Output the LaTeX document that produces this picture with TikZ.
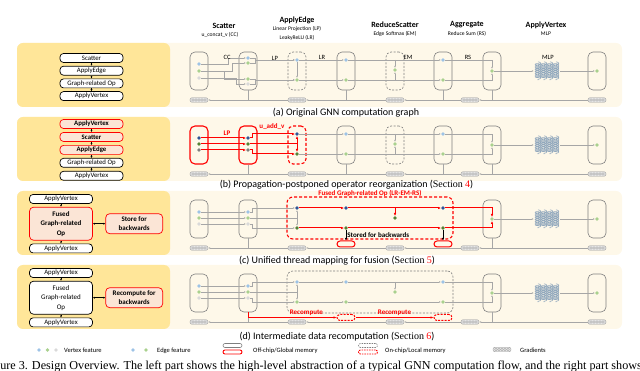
\documentclass[tikz,border=0pt]{standalone}
\usepackage{fontspec}
\setmainfont{Carlito}
\newfontfamily\capfont{Liberation Serif}
\usetikzlibrary{arrows.meta,positioning,fit,calc,decorations.pathreplacing,decorations.pathmorphing}
\definecolor{panelY}{HTML}{FFE699}
\definecolor{panelC}{HTML}{FEF8E9}
\definecolor{boxG}{HTML}{7F7F7F}
\definecolor{lineG}{HTML}{A6A6A6}
\definecolor{vB}{HTML}{9DC3E6}
\definecolor{vG}{HTML}{A9D18E}
\definecolor{vY}{HTML}{D9D9D9}
\definecolor{dB}{HTML}{2F5597}
\definecolor{dG}{HTML}{548235}
\definecolor{dY}{HTML}{7F7F7F}
\definecolor{rFill}{HTML}{FBE5D6}
\tikzset{
  opbox/.style  ={draw=black,line width=0.7pt,rounded corners=3.5pt,fill=white,minimum width=63pt,
                  minimum height=9pt,inner sep=0pt,align=center,font=\fontsize{6.8}{7}\selectfont},
  ropbox/.style ={opbox,draw=red,fill=rFill,font=\fontsize{6.8}{7}\selectfont\bfseries},
  fusedbox/.style={opbox,minimum height=33pt,rounded corners=4pt,font=\fontsize{7}{9.5}\selectfont},
  rfusedbox/.style={fusedbox,draw=red,fill=rFill,font=\fontsize{7}{9.5}\selectfont\bfseries},
  sidebox/.style={ropbox,minimum width=57pt,minimum height=20pt,rounded corners=4pt,
                  font=\fontsize{7}{8.5}\selectfont\bfseries},
  colbox/.style ={draw=boxG,line width=0.6pt,rounded corners=5pt,minimum width=18pt,minimum height=38pt,inner sep=0pt},
  dcolbox/.style={colbox,dash pattern=on 2pt off 1.5pt},
  rcolbox/.style={colbox,draw=red,line width=1.1pt},
  rdcolbox/.style={rcolbox,dash pattern=on 3pt off 2pt},
  fusebox/.style={draw=red,line width=1.1pt,dash pattern=on 3pt off 2pt,rounded corners=6pt,inner xsep=8pt,inner ysep=9pt},
  gfusebox/.style={fusebox,draw=boxG,line width=0.6pt,dash pattern=on 2pt off 1.5pt},
  dot/.style    ={circle,inner sep=0pt,minimum size=3.6pt},
  lb/.style={dot,fill=vB}, lg/.style={dot,fill=vG}, ly/.style={dot,fill=vY},
  db/.style={dot,fill=dB}, dg/.style={dot,fill=dG}, dy/.style={dot,fill=dY},
  gradbox/.style={draw=gray!80,fill=gray!20,rounded corners=2pt,minimum width=18pt,minimum height=4.5pt,inner sep=0pt,
                  path picture={\foreach \k in {-6,-3,0,3,6}
                    \draw[gray!70,line width=0.3pt] ([xshift=\k pt]path picture bounding box.center) circle[radius=1.4pt];}},
  mlpbox/.style ={minimum width=26pt,minimum height=18pt,inner sep=0pt},
  mlpwave/.style={draw=vB!60!gray,line width=0.6pt,decorate,
                  decoration={coil,aspect=0.4,segment length=1.8pt,amplitude=2.8pt}},
  smem/.style   ={draw=red,line width=1pt,rounded corners=3pt,minimum width=18pt,minimum height=6pt,inner sep=0pt},
  rdmem/.style  ={smem,dash pattern=on 2pt off 1.2pt},
  memg/.style   ={draw=boxG,line width=0.6pt,rounded corners=2pt,minimum width=19pt,minimum height=4pt,inner sep=0pt},
  memr/.style   ={memg,draw=red,line width=0.9pt},
  memgd/.style  ={memg,dash pattern=on 1.5pt off 1pt},
  memrd/.style  ={memr,dash pattern=on 1.5pt off 1pt},
  gflow/.style  ={-{Latex[length=2pt,width=1.6pt]},draw=lineG,line width=0.4pt},
  gline/.style  ={draw=lineG,line width=0.4pt},
  rflow/.style  ={-{Latex[length=3pt,width=2.6pt]},draw=red,line width=1pt},
  rline/.style  ={draw=red,line width=1pt},
  kflow/.style  ={-{Latex[length=2.5pt,width=2.2pt]},draw=black,line width=0.8pt},
  opflow/.style ={-{Latex[length=2pt,width=2pt]},line width=0.5pt},
  opboth/.style ={{Latex[length=2pt,width=2pt]}-{Latex[length=2pt,width=2pt]},line width=0.5pt},
  brc/.style    ={draw=gray!70,line width=0.5pt,decorate,decoration={brace,amplitude=2.5pt}},
  hdr/.style    ={font=\fontsize{8}{9}\selectfont\bfseries,inner sep=0pt},
  hsub/.style   ={font=\fontsize{5.6}{6.5}\selectfont,inner sep=0pt},
  plbl/.style   ={font=\fontsize{6.5}{7}\selectfont,inner sep=0pt},
  rlbl/.style   ={font=\fontsize{7}{8}\selectfont\bfseries,text=red,inner sep=0.5pt},
  klbl/.style   ={font=\fontsize{7}{8}\selectfont\bfseries,inner sep=0pt},
  captxt/.style ={font=\fontsize{10}{12}\selectfont,inner sep=0pt},
  legtxt/.style ={font=\fontsize{6.5}{7}\selectfont,anchor=west,inner sep=0pt},
}
% ApplyVertex end of a row, shared by all four rows
\newcommand\tailpart[1]{%
  \node[colbox] (#1col7) at (492,71) {};
  \node[lg] (#1v7g) at (492,71) {};
  \node[mlpbox] (#1mlp) at (547,71) {};
  \foreach \dx in {-9,-3,3,9}
    \draw[mlpwave] ([xshift=\dx pt]#1mlp.north) -- ([xshift=\dx pt]#1mlp.south);
  \node[colbox] (#1col8) at (597,71) {};
  \node[lg] (#1v8g) at (597,71) {};
  \foreach \i/\gx in {1/199,2/297,3/395,4/470,5/597}
    \node[gradbox] (#1gr\i) at (\gx,100) {};
  \foreach \i/\j in {1/2,2/3,3/4,4/5}
    \draw[gflow] (#1gr\j.west) -- (#1gr\i.east);
  \draw[gline] (#1col2.south) -- (#1col2.south |- #1gr1.center);
  \draw[gline] (#1col7.south) -- (#1col7.south |- #1gr1.center);
  \draw[gflow] (#1v7g) -- (#1mlp);
  \draw[gflow] (#1mlp) -- (#1v8g);
}
% dots of columns 4 to 6
\newcommand\innerdots[3]{%
  \node[#2] (#1v4b) at (346,60) {};
  \node[#3] (#1v4g) at (346,80) {};
  \node[#3] (#1v5g) at (395,70) {};
  \node[#2] (#1v6b) at (443,60) {};
  \node[#3] (#1v6g) at (443,80) {};
}
% unfused columns 4 to 6
\newcommand\midpart[1]{%
  \node[colbox] (#1col4) at (346,71) {};
  \node[dcolbox] (#1col5) at (395,71) {};
  \node[colbox] (#1col6) at (443,71) {};
  \innerdots{#1}{lb}{lg}
  \draw[gflow] (#1v3b) -- (#1v4b);
  \draw[gflow] (#1v3g) -- (#1v4g);
  \draw[gflow] (#1v4b) -- (#1v6b);
  \draw[gflow] (#1v4g) -- (#1v6g);
  \draw[gflow] (#1v5g |- #1v4b) -- (#1v5g);
  \draw[gflow] (#1v5g |- #1v4g) -- (#1v5g);
  \draw[gflow] (#1v6b) -| (#1v7g);
  \draw[gflow] (#1v6g) -| (#1v7g);
  \foreach \c in {4,6}
    \draw[gline] (#1col\c.south) -- (#1col\c.south |- #1gr1.center);
}
\newcommand\panelbg{%
  \fill[panelC,rounded corners=6pt] (17,43) rectangle (622,107);
  \fill[panelY,rounded corners=6pt] (17,43) rectangle (170,107);
}
\newcommand\secref[1]{(\textcolor{black}{\capfont Section} \textcolor{red}{\capfont #1})}

\begin{document}
\begin{tikzpicture}[x=1pt,y=-1pt,node distance=3pt]
\useasboundingbox (0,0) rectangle (640,371);
\clip (0,0) rectangle (640,371);

% column headers
\node[hdr]  (hsc)  at (224,26) {Scatter};
\node[hsub] (hsc1) at (220,35) {u\_concat\_v (CC)};
\node[hdr]  (hae)  at (297,20) {ApplyEdge};
\node[hsub] (hae1) at (297,29) {Linear Projection (LP)};
\node[hsub] (hae2) at (297,38) {LeakyReLU (LR)};
\node[hdr]  (hrs)  at (395,25) {ReduceScatter};
\node[hsub] (hrs1) at (395,34) {Edge Softmax (EM)};
\node[hdr]  (hag)  at (467,25) {Aggregate};
\node[hsub] (hag1) at (467,34) {Reduce Sum (RS)};
\node[hdr]  (hav)  at (546,25) {ApplyVertex};
\node[hsub] (hav1) at (546,34) {MLP};
\draw[brc] (191,51) -- (246,51);
\draw[brc] (250,51) -- (344,51);
\draw[brc] (348,51) -- (441,51);
\draw[brc] (445,51) -- (490,51);
\draw[brc] (494,51) -- (597,51);

% (a) original graph
\begin{scope}
\panelbg
\node[opbox] (aop1) at (91.5,58) {Scatter};
\node[opbox,below=of aop1] (aop2) {ApplyEdge};
\node[opbox,below=of aop2] (aop3) {Graph-related Op};
\node[opbox,below=of aop3] (aop4) {ApplyVertex};
\foreach \i/\j in {1/2,2/3,3/4} \draw[opflow] (aop\i) -- (aop\j);
\node[colbox] (acol1) at (199,71) {};
\node[lb] (av1b) at (199,64) {};
\node[lg] (av1g) at (199,71) {};
\node[ly] (av1y) at (199,78) {};
\node[colbox] (acol2) at (248,71) {};
\node[lb] (av2b) at (248,58) {};
\node[lg] (av2g) at (248,63) {};
\node[lg] (av2h) at (248,79) {};
\node[ly] (av2y) at (248,84) {};
\node[dcolbox] (acol3) at (297,71) {};
\node[lb] (av3b) at (297,60) {};
\node[lg] (av3g) at (297,80) {};
\tailpart{a}
\midpart{a}
\draw[gflow] (av1b) -- ++(29,0) |- (av2b);
\draw[gflow] (av1g) -- ++(33,0) |- (av2g);
\draw[gflow] (av1g) -- ++(25,0) |- (av2h);
\draw[gflow] (av1y) -- ++(37,0) |- (av2y);
\draw[gflow] (av2b) -- ++(7,0) |- (av3b);
\draw[gflow] (av2g) -- ++(7,0) |- (av3b);
\draw[gflow] (av2h) -- ++(7,0) |- (av3g);
\draw[gflow] (av2y) -- ++(7,0) |- (av3g);
\draw[gflow] (av3b) -- (av3g);
\node[plbl] (acc)  at (227,57) {CC};
\node[plbl] (alp)  at (275,58) {LP};
\node[plbl] (alr)  at (322,57) {LR};
\node[plbl] (aem)  at (408,57) {EM};
\node[plbl] (ars)  at (468,57) {RS};
\node[plbl] (amlt) at (548,57) {MLP};
\node[captxt] (capa) at (346,113) {(a) Original GNN computation graph};
\end{scope}

% (b) propagation postponed
\begin{scope}[shift={(0,74)}]
\panelbg
\node[ropbox] (bop1) at (91.5,50) {ApplyVertex};
\node[ropbox,below=3.25pt of bop1] (bop2) {Scatter};
\node[ropbox,below=3.25pt of bop2] (bop3) {ApplyEdge};
\node[opbox,below=3.25pt of bop3] (bop4) {Graph-related Op};
\node[opbox,below=3.25pt of bop4] (bop5) {ApplyVertex};
\foreach \i/\j in {1/2,2/3,3/4,4/5} \draw[opflow] (bop\i) -- (bop\j);
\node[rcolbox] (bcol1) at (199,71) {};
\node[db] (bv1b) at (199,64) {};
\node[dg] (bv1g) at (199,70) {};
\node[dy] (bv1y) at (199,76) {};
\node[rcolbox] (bcol2) at (248,71) {};
\node[db] (bv2b) at (248,64) {};
\node[dg] (bv2g) at (248,70) {};
\node[dy] (bv2y) at (248,76) {};
\node[rdcolbox] (bcol3) at (297,71) {};
\node[db] (bv3b) at (297,60) {};
\node[dg] (bv3g) at (297,80) {};
\tailpart{b}
\midpart{b}
\foreach \k in {b,g,y} \draw[rflow] (bv1\k) -- (bv2\k);
\coordinate (bmid) at (bv3b |- bv2g);
\draw[rflow] (bv2b) -- ++(4,0) |- (bv3b);
\draw[rline] (bv2g) -- (bmid);
\draw[rflow] (bmid) -- (bv3b);
\draw[rflow] (bmid) -- (bv3g);
\draw[rflow] (bv2y) -- ++(4,0) |- (bv3g);
\node[rlbl] (blp)  at (227,59.5) {LP};
\node[rlbl] (buav) at (272,53) {u\_add\_v};
\node[captxt] (capb) at (346.5,111) {(b) Propagation-postponed operator reorganization \secref{4}};
\end{scope}

% (c) unified thread mapping
\begin{scope}[shift={(0,148)}]
\panelbg
\node[opbox] (cop1) at (61,51) {ApplyVertex};
\node[rfusedbox,below=of cop1] (cop2) {Fused\\Graph-related\\Op};
\node[opbox,below=of cop2] (cop3) {ApplyVertex};
\node[sidebox,right=12.5pt of cop2] (cop4) {Store for\\backwards};
\draw[opflow] (cop1) -- (cop2);
\draw[opflow] (cop2) -- (cop3);
\draw[opboth] (cop2) -- (cop4);
\node[colbox] (ccol1) at (199,71) {};
\node[lb] (cv1b) at (199,64) {};
\node[lg] (cv1g) at (199,70) {};
\node[ly] (cv1y) at (199,76) {};
\node[colbox] (ccol2) at (248,71) {};
\node[lb] (cv2b) at (248,64) {};
\node[lg] (cv2g) at (248,70) {};
\node[ly] (cv2y) at (248,76) {};
\node[db] (cv3b) at (297,60) {};
\node[dg] (cv3g) at (297,80) {};
\innerdots{c}{db}{dg}
\node[fusebox,fit=(cv3b)(cv6g),
      label={[rlbl,yshift=-0.8pt]above:Fused Graph-related Op (LR-EM-RS)}] (cfuse) {};
\tailpart{c}
\foreach \k in {b,g,y} \draw[gflow] (cv1\k) -- (cv2\k);
\coordinate (cmid) at (cv3b |- cv2g);
\draw[gflow] (cv2b) -- ++(4,0) |- (cv3b);
\draw[gline] (cv2g) -- (cmid);
\draw[gflow] (cmid) -- (cv3b);
\draw[gflow] (cmid) -- (cv3g);
\draw[gflow] (cv2y) -- ++(4,0) |- (cv3g);
\draw[rflow] (cv3b) -- (cv4b);
\draw[rflow] (cv4b) -- (cv6b);
\draw[rflow] (cv3g) -- (cv4g);
\draw[rflow] (cv4g) -- (cv6g);
\draw[rflow] (cv5g |- cv4b) -- (cv5g);
\draw[rflow] (cv6b) -| (cv7g);
\draw[rflow] (cv6g) -| (cv7g);
\node[smem] (cst1) at (346,96) {};
\node[smem] (cst2) at (443,96) {};
\draw[kflow] (cv4g) -- (cst1) node[midway,right=1pt,klbl] (cstl) {Stored for backwards};
\draw[kflow] (cv6g) -- (cst2);
\node[captxt] (capc) at (337,112.5) {(c) Unified thread mapping for fusion \secref{5}};
\end{scope}

% (d) recomputation
\begin{scope}[shift={(0,222)}]
\panelbg
\node[opbox] (dop1) at (61,51) {ApplyVertex};
\node[fusedbox,below=of dop1] (dop2) {Fused\\Graph-related\\Op};
\node[opbox,below=of dop2] (dop3) {ApplyVertex};
\node[sidebox,right=12.5pt of dop2] (dop4) {Recompute for\\backwards};
\draw[opflow] (dop1) -- (dop2);
\draw[opflow] (dop2) -- (dop3);
\draw[opboth] (dop2) -- (dop4);
\node[colbox] (dcol1) at (199,71) {};
\node[lb] (dv1b) at (199,64) {};
\node[lg] (dv1g) at (199,70) {};
\node[ly] (dv1y) at (199,76) {};
\node[colbox] (dcol2) at (248,71) {};
\node[lb] (dv2b) at (248,64) {};
\node[lg] (dv2g) at (248,70) {};
\node[ly] (dv2y) at (248,76) {};
\node[lb] (dv3b) at (297,60) {};
\node[lg] (dv3g) at (297,80) {};
\innerdots{d}{lb}{lg}
\node[gfusebox,fit=(dv3b)(dv6g)] (dfuse) {};
\tailpart{d}
\foreach \k in {b,g,y} \draw[gflow] (dv1\k) -- (dv2\k);
\coordinate (dmid) at (dv3b |- dv2g);
\draw[gflow] (dv2b) -- ++(4,0) |- (dv3b);
\draw[gline] (dv2g) -- (dmid);
\draw[gflow] (dmid) -- (dv3b);
\draw[gflow] (dmid) -- (dv3g);
\draw[gflow] (dv2y) -- ++(4,0) |- (dv3g);
\draw[gflow] (dv3b) -- (dv4b);
\draw[gflow] (dv4b) -- (dv6b);
\draw[gflow] (dv3g) -- (dv4g);
\draw[gflow] (dv4g) -- (dv6g);
\draw[gflow] (dv5g |- dv4b) -- (dv5g);
\draw[gflow] (dv6b) -| (dv7g);
\draw[gflow] (dv6g) -| (dv7g);
\node[rdmem] (dst1) at (346,95.5) {};
\node[rdmem] (dst2) at (443,95.5) {};
\draw[rflow] (dcol2.south) |- (dst1) node[pos=0.83,above=0.5pt,rlbl] (drc1) {Recompute};
\draw[rflow] (dst1) -- (dst2) node[midway,above=0.5pt,rlbl] (drc2) {Recompute};
\node[captxt] (capd) at (337,115) {(d) Intermediate data recomputation \secref{6}};
\end{scope}

% legend
\node[lb] (lgv1) at (39,350) {};
\node[lg] (lgv2) at (47.5,350) {};
\node[ly] (lgv3) at (56,350) {};
\node[legtxt] (lgvt) at (64,350.5) {Vertex feature};
\node[lb] (lge1) at (133,350) {};
\node[lg] (lge2) at (146,350) {};
\node[legtxt] (lget) at (157,350.5) {Edge feature};
\node[memg] (lgm1) at (232.5,345.5) {};
\node[memr] (lgm2) at (232.5,352) {};
\node[legtxt] (lgmt) at (253,350.5) {Off-chip/Global memory};
\node[memgd] (lgl1) at (368,345.5) {};
\node[memrd] (lgl2) at (368,352) {};
\node[legtxt] (lglt) at (385,350.5) {On-chip/Local memory};
\node[gradbox] (lggr) at (502,349.5) {};
\node[legtxt] (lggt) at (520,350.5) {Gradients};

% figure caption, cut by the page edge
\node[font=\capfont\fontsize{12.15}{14}\selectfont,inner sep=0pt,anchor=base east] (figcap) at (642,370)
  {Figure 3. Design Overview. The left part shows the high-level abstraction of a typical GNN computation flow, and the right part shows};
\end{tikzpicture}
\end{document}
